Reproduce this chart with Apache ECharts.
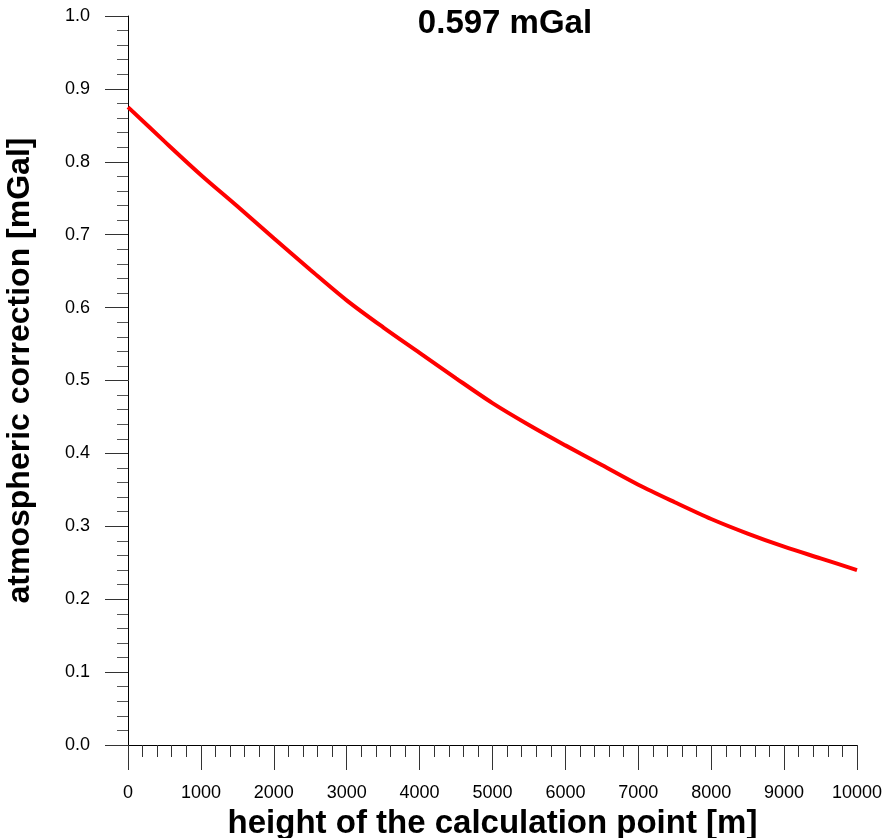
<!DOCTYPE html>
<html>
<head>
<meta charset="utf-8">
<script src="https://cdn.jsdelivr.net/npm/echarts@6/dist/echarts.min.js"></script>
<style>
  html, body { margin: 0; padding: 0; background: #fff; }
  #chart { width: 886px; height: 838px; }
</style>
</head>
<body>
<div id="chart"></div>
<script>
// height of calculation point [m]
const heights = [0, 500, 1000, 1500, 2000, 2500, 3000, 3500, 4000, 4500, 5000,
  5500, 6000, 6500, 7000, 7500, 8000, 8500, 9000, 9500, 10000];
// atmospheric correction [mGal]
const correction = [0.875, 0.828, 0.782, 0.739, 0.695, 0.652, 0.610, 0.573, 0.538, 0.503, 0.469,
  0.439, 0.411, 0.384, 0.357, 0.333, 0.310, 0.290, 0.272, 0.256, 0.240];
const titleText = '0.597 mGal';

const font = 'Arial, "Liberation Sans", sans-serif';

var myChart = echarts.init(document.getElementById('chart'));
myChart.setOption({
  animation: false,
  title: {
    text: titleText,
    left: 500,
    top: 2,
    textAlign: 'center',
    textStyle: { fontFamily: font, fontSize: 33, fontWeight: 'bold', color: '#000' }
  },
  grid: { left: 128, right: 29, top: 16, bottom: 93, containLabel: false, outerBoundsMode: 'none' },
  xAxis: {
    type: 'value',
    min: 0,
    max: 10000,
    interval: 1000,
    name: 'height of the calculation point [m]',
    nameLocation: 'middle',
    nameGap: 62,
    nameTextStyle: { fontFamily: font, fontSize: 33, fontWeight: 'bold', color: '#000' },
    axisLine: { show: true, lineStyle: { color: '#000', width: 1 } },
    axisTick: { show: true, inside: false, length: 25, lineStyle: { color: '#333' } },
    minorTick: { show: true, splitNumber: 5, length: 12, lineStyle: { color: '#333' } },
    splitLine: { show: false },
    axisLabel: { margin: 39, fontFamily: font, fontSize: 18, color: '#000', formatter: (v) => String(v) }
  },
  yAxis: {
    type: 'value',
    min: 0,
    max: 1,
    interval: 0.1,
    name: 'atmospheric correction [mGal]',
    nameLocation: 'middle',
    nameGap: 92,
    nameTextStyle: { fontFamily: font, fontSize: 32, fontWeight: 'bold', color: '#000', padding: [0, 0, 0, 20] },
    axisLine: { show: true, lineStyle: { color: '#000', width: 1 } },
    axisTick: { show: true, inside: false, length: 23, lineStyle: { color: '#333' } },
    minorTick: { show: true, splitNumber: 5, length: 11, lineStyle: { color: '#555' } },
    splitLine: { show: false },
    axisLabel: {
      margin: 38,
      fontFamily: font,
      fontSize: 18,
      color: '#000',
      formatter: (v) => v.toFixed(1)
    }
  },
  series: [
    {
      type: 'line',
      data: heights.map((h, i) => [h, correction[i]]),
      smooth: 0.3,
      showSymbol: false,
      lineStyle: { color: '#ff0000', width: 4 }
    }
  ]
});
</script>
</body>
</html>
